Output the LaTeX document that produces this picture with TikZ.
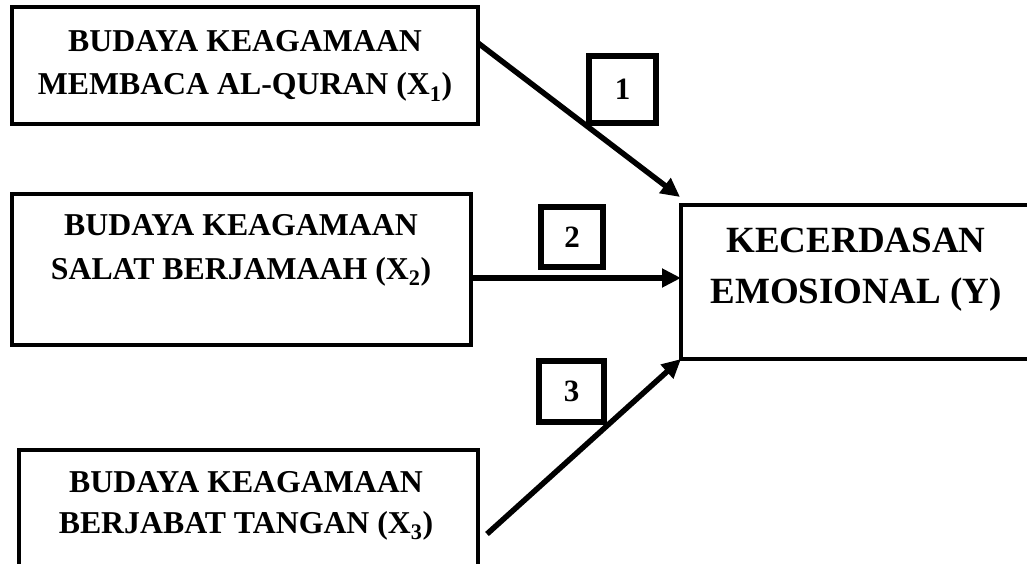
\documentclass[tikz,border=0pt]{standalone}
\usepackage{fontspec}
\setmainfont{Liberation Serif}
\usetikzlibrary{arrows.meta}
\begin{document}
\begin{tikzpicture}[x=1pt,y=-1pt,
  varbox/.style={draw,line width=4.5pt,rectangle,inner sep=0pt,outer sep=0pt},
  numbox/.style={draw,line width=5.5pt,rectangle,inner sep=0pt,outer sep=0pt,font=\fontsize{31}{31}\selectfont\bfseries},
  vtext/.style={anchor=base,inner sep=0pt,font=\fontsize{31.8}{31.8}\selectfont\bfseries},
  ytext/.style={anchor=base,inner sep=0pt,font=\fontsize{37}{37}\selectfont\bfseries},
  conn/.style={line width=5.5pt,-{Triangle[length=19pt,width=18pt]}}]
\useasboundingbox (0,0) rectangle (1027,564);
% variable boxes
\node[varbox,minimum width=466pt,minimum height=117pt] (x1) at (245,65.5) {};
\node[varbox,minimum width=459pt,minimum height=151pt] (x2) at (241.5,269.5) {};
\node[varbox,minimum width=459pt,minimum height=151pt] (x3) at (248.5,525.5) {};
\node[varbox,minimum width=351pt,minimum height=154pt] (y) at (856.5,282) {};
% texts
\node[vtext] (x1a) at (245,52) {BUDAYA KEAGAMAAN};
\node[vtext] (x1b) at (245,95) {MEMBACA AL-QURAN (X\textsubscript{1})};
\node[vtext] (x2a) at (241,235) {BUDAYA KEAGAMAAN};
\node[vtext] (x2b) at (241,279) {SALAT BERJAMAAH (X\textsubscript{2})};
\node[vtext] (x3a) at (246,492) {BUDAYA KEAGAMAAN};
\node[vtext] (x3b) at (246,533) {BERJABAT TANGAN (X\textsubscript{3})};
\node[ytext] (ya) at (856,252) {KECERDASAN};
\node[ytext] (yb) at (856,303) {EMOSIONAL (Y)};
% number boxes
\node[numbox,minimum width=67pt,minimum height=67pt] (n1) at (622.5,89.5) {1};
\node[numbox,minimum width=62pt,minimum height=60pt] (n2) at (572,237) {2};
\node[numbox,minimum width=65pt,minimum height=61pt] (n3) at (571.5,391.5) {3};
% connectors
\coordinate (s1) at (478,43);
\coordinate (t1) at (680,197);
\coordinate (s2) at (471,278);
\coordinate (s3) at (487,534);
\coordinate (t3) at (681,359);
\draw[conn] (s1) -- (t1);
\draw[conn] (s2) -- (s2 -| y.west);
\draw[conn] (s3) -- (t3);
\end{tikzpicture}
\end{document}
